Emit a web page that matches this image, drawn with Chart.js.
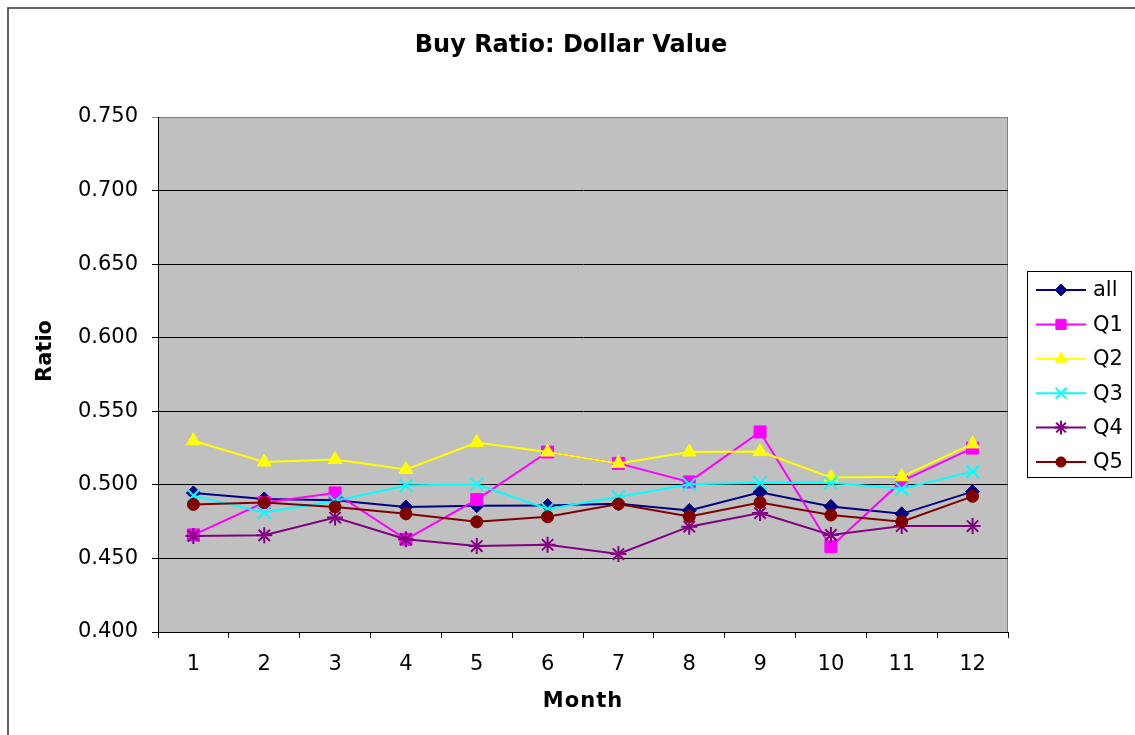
<!DOCTYPE html>
<html>
<head>
<meta charset="utf-8">
<title>Buy Ratio: Dollar Value</title>
<script src="https://cdn.jsdelivr.net/npm/chart.js@4/dist/chart.umd.min.js"></script>
<style>
  html, body { margin: 0; padding: 0; background: #fff; overflow: hidden; }
  #wrap { width: 1135px; height: 735px; }
</style>
</head>
<body>
<div id="wrap"><canvas id="buyChart" width="1135" height="735"></canvas></div>
<script>
// values
const months = ['1', '2', '3', '4', '5', '6', '7', '8', '9', '10', '11', '12'];
const allValues = [0.4945, 0.4904, 0.4895, 0.4850, 0.4858, 0.4860, 0.4872, 0.4826, 0.4950, 0.4853, 0.4803, 0.4954];
const q1Values = [0.4660, 0.4880, 0.4945, 0.4630, 0.4900, 0.5223, 0.5146, 0.5020, 0.5360, 0.4580, 0.5025, 0.5250];
const q2Values = [0.5300, 0.5155, 0.5173, 0.5105, 0.5288, 0.5223, 0.5146, 0.5223, 0.5226, 0.5050, 0.5055, 0.5278];
const q3Values = [0.4927, 0.4812, 0.4890, 0.4995, 0.5004, 0.4836, 0.4918, 0.5004, 0.5014, 0.5014, 0.4973, 0.5090];
const q4Values = [0.4653, 0.4657, 0.4778, 0.4630, 0.4584, 0.4593, 0.4530, 0.4716, 0.4808, 0.4660, 0.4720, 0.4720];
const q5Values = [0.4867, 0.4880, 0.4850, 0.4803, 0.4749, 0.4783, 0.4870, 0.4785, 0.4880, 0.4795, 0.4750, 0.4922];
const yTicks = [0.400, 0.450, 0.500, 0.550, 0.600, 0.650, 0.700, 0.750];

const FONT = '"DejaVu Sans", Arial, sans-serif';

function series(label, data, color, style, radius, order) {
    const open = style === 'crossRot' || style === 'star';
    return {
        label: label,
        data: data,
        borderColor: color,
        backgroundColor: color,
        borderWidth: 2,
        tension: 0,
        pointStyle: style,
        pointRadius: radius,
        pointHoverRadius: radius,
        pointBackgroundColor: color,
        pointBorderColor: color,
        pointBorderWidth: open ? 2 : 1,
        order: order
    };
}

const datasets = [
    series('all', allValues, '#000080', 'rectRot', 7, 6),
    series('Q1', q1Values, '#FF00FF', 'rect', 8.5, 5),
    series('Q2', q2Values, '#FFFF00', 'triangle', 8, 4),
    series('Q3', q3Values, '#00FFFF', 'crossRot', 9, 3),
    series('Q4', q4Values, '#800080', 'star', 8, 2),
    series('Q5', q5Values, '#800000', 'circle', 6, 1)
];

// grey plot area, outer frame, titles and the legend box
const excelLook = {
    id: 'excelLook',
    beforeDraw(chart) {
        const ctx = chart.ctx;
        const a = chart.chartArea;
        ctx.save();
        ctx.fillStyle = '#ffffff';
        ctx.fillRect(0, 0, chart.width, chart.height);
        ctx.strokeStyle = '#333333';
        ctx.lineWidth = 1.5;
        ctx.beginPath();
        ctx.moveTo(8, chart.height);
        ctx.lineTo(8, 8);
        ctx.lineTo(chart.width, 8);
        ctx.stroke();
        ctx.fillStyle = '#c0c0c0';
        ctx.fillRect(a.left, a.top, a.right - a.left, a.bottom - a.top);
        ctx.strokeStyle = '#808080';
        ctx.lineWidth = 1;
        ctx.beginPath();
        ctx.moveTo(a.left, a.top + 0.5);
        ctx.lineTo(a.right - 0.5, a.top + 0.5);
        ctx.lineTo(a.right - 0.5, a.bottom);
        ctx.stroke();
        ctx.restore();
    },
    afterDraw(chart) {
        const ctx = chart.ctx;
        const a = chart.chartArea;
        ctx.save();
        ctx.fillStyle = '#000';
        ctx.textAlign = 'center';
        ctx.textBaseline = 'middle';

        ctx.font = 'bold 24px ' + FONT;
        ctx.fillText('Buy Ratio: Dollar Value', 571, 46);

        ctx.font = 'bold 21px ' + FONT;
        ctx.letterSpacing = '1px';
        ctx.fillText('Month', (a.left + a.right) / 2, 702);
        ctx.letterSpacing = '0px';

        ctx.save();
        ctx.translate(46, 351);
        ctx.rotate(-Math.PI / 2);
        ctx.fillText('Ratio', 0, 0);
        ctx.restore();

        // legend
        const box = { x: 1027.5, y: 271.5, w: 104, h: 206 };
        ctx.strokeStyle = '#000';
        ctx.lineWidth = 1;
        ctx.strokeRect(box.x, box.y, box.w, box.h);
        ctx.font = '21px ' + FONT;
        ctx.textAlign = 'left';
        chart.data.datasets.forEach((ds, i) => {
            const y = 290 + i * 34.4;
            ctx.strokeStyle = ds.borderColor;
            ctx.lineWidth = 2;
            ctx.beginPath();
            ctx.moveTo(1036, y);
            ctx.lineTo(1086, y);
            ctx.stroke();
            ctx.fillStyle = ds.pointBackgroundColor;
            ctx.strokeStyle = ds.pointBorderColor;
            ctx.lineWidth = ds.pointBorderWidth;
            Chart.helpers.drawPoint(ctx, {
                pointStyle: ds.pointStyle,
                radius: ds.pointRadius * 0.85,
                rotation: 0,
                borderWidth: ds.pointBorderWidth
            }, 1061, y);
            ctx.fillStyle = '#000';
            ctx.fillText(ds.label, 1093, y + 1);
        });
        ctx.restore();
    }
};

const ctx = document.getElementById('buyChart').getContext('2d');
const buyChart = new Chart(ctx, {
    type: 'line',
    data: {
        labels: months,
        datasets: datasets
    },
    options: {
        responsive: false,
        animation: false,
        devicePixelRatio: 1,
        layout: {
            padding: { top: 117, right: 127, bottom: 0, left: 0 }
        },
        plugins: {
            legend: { display: false },
            title: { display: false },
            tooltip: { enabled: false }
        },
        scales: {
            x: {
                type: 'category',
                offset: true,
                grid: {
                    offset: true,
                    drawOnChartArea: false,
                    tickLength: 6,
                    color: '#000'
                },
                border: { color: '#000', width: 1 },
                ticks: {
                    color: '#000',
                    padding: 14,
                    maxRotation: 0,
                    font: { family: FONT, size: 21 }
                },
                afterFit(scale) { scale.height = 103; }
            },
            y: {
                min: 0.4,
                max: 0.75,
                afterBuildTicks(scale) {
                    scale.ticks = yTicks.map(v => ({ value: v }));
                },
                grid: {
                    tickLength: 6,
                    color: c => (c.tick && c.tick.value === 0.75 ? '#808080' : '#000'),
                    lineWidth: 1
                },
                border: { color: '#000', width: 1 },
                ticks: {
                    color: '#000',
                    padding: 14,
                    font: { family: FONT, size: 21 },
                    callback: v => Number(v).toFixed(3)
                },
                afterFit(scale) { scale.width = 158; }
            }
        }
    },
    plugins: [excelLook]
});
</script>
</body>
</html>
